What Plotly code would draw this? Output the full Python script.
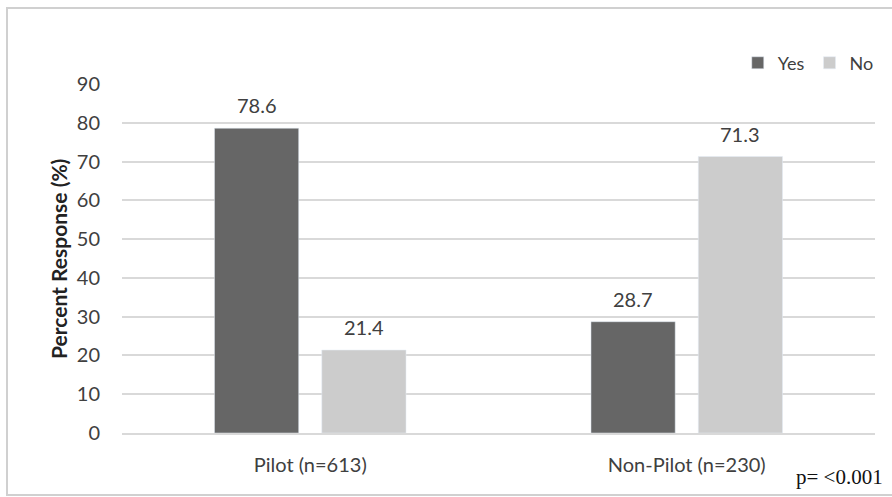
import plotly.graph_objects as go

categories = ["Pilot (n=613)", "Non-Pilot (n=230)"]
yes_values = [78.6, 28.7]
no_values = [21.4, 71.3]
y_ticks = [0, 10, 20, 30, 40, 50, 60, 70, 80, 90]

FONT = "Lato, 'Open Sans', sans-serif"
YES_COLOR = "#666666"
NO_COLOR = "#cccccc"

fig = go.Figure()
fig.add_trace(go.Bar(name="Yes", x=categories, y=yes_values, marker_color=YES_COLOR))
fig.add_trace(go.Bar(name="No", x=categories, y=no_values, marker_color=NO_COLOR))

# value labels above each bar (positioned from the data, offset to each bar in the group)
value_annotations = []
for series, shift in ((yes_values, -53.5), (no_values, 53.5)):
    for cat, v in zip(categories, series):
        value_annotations.append(dict(
            x=cat, y=v, xref="x", yref="y", text=f"{v:.1f}", showarrow=False,
            xshift=shift, yshift=23, yanchor="middle",
            font=dict(size=20, color="#404040", family=FONT)))

fig.update_layout(
    width=892, height=497,
    margin=dict(l=122, r=17, t=84, b=64),
    paper_bgcolor="white", plot_bgcolor="white",
    barmode="group", bargap=0.43, bargroupgap=0.215,
    font=dict(family=FONT, color="#404040"),
    showlegend=True,
    legend=dict(orientation="h", x=1.005, xanchor="right", y=1.06, yanchor="middle",
                font=dict(size=18, color="#404040", family=FONT),
                itemwidth=30, traceorder="normal", bgcolor="rgba(0,0,0,0)"),
    xaxis=dict(showline=True, linecolor="#d9d9d9", linewidth=2,
               ticks="outside", ticklen=13, tickcolor="rgba(0,0,0,0)",
               tickfont=dict(size=20, color="#404040")),
    yaxis=dict(range=[0, 90], tickvals=y_ticks, showgrid=True, gridcolor="#d9d9d9",
               gridwidth=2, zeroline=False, ticks="outside", ticklen=17,
               tickcolor="rgba(0,0,0,0)", tickfont=dict(size=20, color="#404040")),
    shapes=[dict(type="rect", xref="paper", yref="paper",
                 x0=-0.1527, x1=1.04, y0=-0.1777, y1=1.2178,
                 line=dict(color="#d0d0d0", width=2))],
    annotations=value_annotations + [
        dict(text="<b>Percent Response (%)</b>", textangle=-90, xref="paper", yref="paper",
             x=-0.1036, y=0.5, showarrow=False, font=dict(size=21, color="#222222", family=FONT)),
        dict(text="p= <0.001", xref="paper", yref="paper", x=1.0133, y=-0.126,
             xanchor="right", yanchor="middle", showarrow=False,
             font=dict(size=21, color="#111111", family="'Liberation Serif', 'Times New Roman', serif")),
    ],
)

fig.write_html("out.html", config={"displayModeBar": False},
               post_script="document.body.style.margin='0';")
